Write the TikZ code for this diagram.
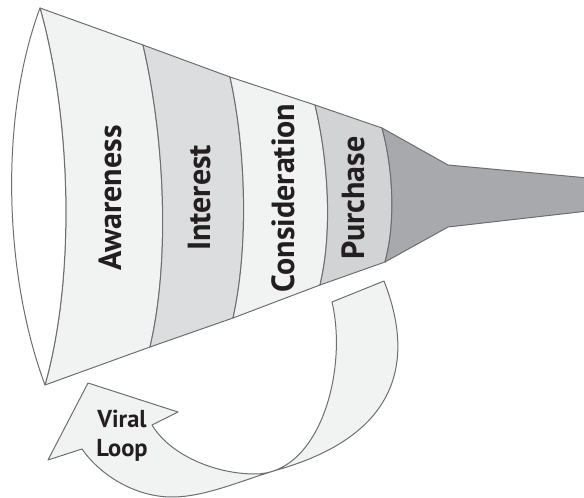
\documentclass[tikz,border=0pt]{standalone}
\usepackage{fontspec}
\setmainfont{PT Sans}
\usepackage{xcolor}
\usepackage{tikz}
\usetikzlibrary{calc}

\definecolor{bandlight}{HTML}{F1F2F2}
\definecolor{bandmid}{HTML}{DCDDDE}
\definecolor{banddark}{HTML}{D1D3D4}
\definecolor{neckgray}{HTML}{A7A9AC}
\definecolor{edgegray}{HTML}{6D6E71}
\definecolor{inkblack}{HTML}{231F20}

\begin{document}
\begin{tikzpicture}[x=1pt, y=1pt, line join=round,
  edge/.style={draw=edgegray, line width=1pt},
  stage/.style={rotate=90, text=inkblack, inner sep=0pt,
    font=\fontsize{32}{34}\selectfont\bfseries},
  looplabel/.style={text=inkblack, align=center, inner sep=0pt,
    font=\fontsize{24.5}{29}\selectfont\bfseries}]
  \useasboundingbox (0,0) rectangle (584,498);
  % band edges, top and bottom
  \coordinate (t0) at (40,490);  \coordinate (b0) at (45,113);
  \coordinate (t1) at (143,453); \coordinate (b1) at (150,151);
  \coordinate (t2) at (230,421); \coordinate (b2) at (233,180);
  \coordinate (t3) at (315,393); \coordinate (b3) at (320,213);
  \coordinate (t4) at (382,370); \coordinate (b4) at (385,236);
  % funnel bands
  \foreach \i/\j/\ai/\di/\aj/\dj/\col in {0/1/31/110/21/90/bandlight,
      1/2/21/90/16/72/bandmid, 2/3/16/72/13/54/bandlight,
      3/4/13/54/11/40/banddark}{
    \filldraw[edge, fill=\col] (t\i) -- (t\j)
      .. controls +(\aj,-\dj) and +(\aj,\dj) .. (b\j) -- (b\i)
      .. controls +(\ai,\di) and +(\ai,-\di) .. (t\i) -- cycle;
  }
  % neck
  \coordinate (n1) at (448,333); \coordinate (n2) at (588,320);
  \coordinate (n3) at (588,287); \coordinate (n4) at (448,271);
  \filldraw[edge, fill=neckgray] (t4) -- (n1) -- (n2) -- (n3) -- (n4) -- (b4)
    .. controls +(11,40) and +(11,-40) .. (t4) -- cycle;
  % mouth
  \filldraw[edge, fill=white] (t0) .. controls +(31,-110) and +(31,110) .. (b0)
    .. controls +(-41,110) and +(-41,-110) .. (t0) -- cycle;
  % viral loop arrow
  \filldraw[edge, fill=bandlight] (332,196) -- (384,217)
    .. controls (415,138) and (400,63) .. (277,28)
    .. controls (240,17) and (205,1) .. (172,1)
    .. controls (135,1) and (100,23) .. (82,49)
    -- (48,38) -- (88,115) -- (178,86) -- (152,73)
    .. controls (170,43) and (215,24) .. (255,24)
    .. controls (320,24) and (348,128) .. (332,196) -- cycle;
  % labels
  \node[stage] (awareness) at (110,300) {Awareness};
  \node[stage] (interest) at (200,300) {Interest};
  \node[stage] (consideration) at (283,300) {Consideration};
  \node[stage] (purchase) at (353,300) {Purchase};
  \node[looplabel] (viral) at (122,62) {Viral\\Loop};
\end{tikzpicture}
\end{document}
